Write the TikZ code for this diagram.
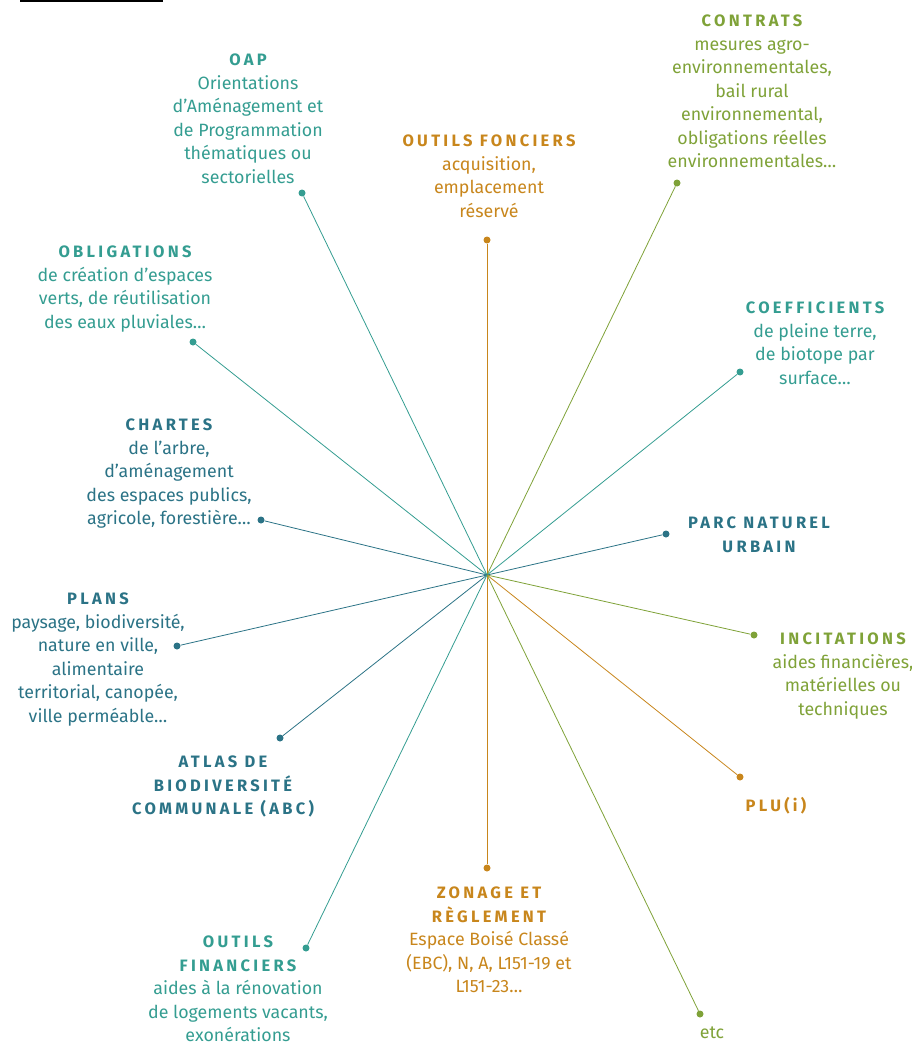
\documentclass[tikz,border=0pt]{standalone}
\usepackage{fontspec}
\setmainfont{Fira Sans}
\newfontfamily\hdfont[LetterSpace=20]{Fira Sans}
\usetikzlibrary{positioning}
\definecolor{tealA}{HTML}{349D91}
\definecolor{tealB}{HTML}{2B7386}
\definecolor{greenA}{HTML}{7FA238}
\definecolor{ochreA}{HTML}{C8861C}
\newcommand\hd[1]{{\hdfont\bfseries\fontsize{16.5}{23.5}\selectfont #1}}

\begin{document}
\begin{tikzpicture}[x=1pt,y=-1pt,
  lbl/.style={anchor=north,align=center,inner sep=0pt,font=\fontsize{17.8}{23.5}\selectfont},
  dot/.style={circle,inner sep=0pt,minimum size=7pt},
  ray/.style={line width=0.8pt}]
\useasboundingbox (0,0) rectangle (912,1046);
\fill[black] (20,0) rectangle (163,2.5);
\coordinate (c) at (487,575);
% labels
\node[lbl,text=tealA] (oap) at (248,54) {\hd{OAP}\\Orientations\\d’Aménagement et\\de Programmation\\thématiques ou\\sectorielles};
\node[lbl,text=ochreA] (fonc) at (489,135) {\hd{OUTILS FONCIERS}\\acquisition,\\emplacement\\réservé};
\node[lbl,text=greenA] (contr) at (752,15) {\hd{CONTRATS}\\mesures agro-\\environnementales,\\bail rural\\environnemental,\\obligations réelles\\environnementales…};
\node[lbl,text=tealA] (oblig) at (125,246) {\hd{OBLIGATIONS}\\de création d’espaces\\verts, de réutilisation\\des eaux pluviales…};
\node[lbl,text=tealA] (coef) at (815,302) {\hd{COEFFICIENTS}\\de pleine terre,\\de biotope par\\surface…};
\node[lbl,text=tealB] (chart) at (169,419) {\hd{CHARTES}\\de l’arbre,\\d’aménagement\\des espaces publics,\\agricole, forestière…};
\node[lbl,text=tealB] (parc) at (759,517) {\hd{PARC NATUREL}\\\hd{URBAIN}};
\node[lbl,text=tealB] (plans) at (98,593) {\hd{PLANS}\\paysage, biodiversité,\\nature en ville,\\alimentaire\\territorial, canopée,\\ville perméable…};
\node[lbl,text=greenA] (incit) at (843,633) {\hd{INCITATIONS}\\aides financières,\\matérielles ou\\techniques};
\node[lbl,text=tealB] (atlas) at (223,756) {\hd{ATLAS DE}\\\hd{BIODIVERSITÉ}\\\hd{COMMUNALE (ABC)}};
\node[lbl,text=ochreA] (plu) at (776,797) {\hd{PLU(i)}};
\node[lbl,text=ochreA] (zon) at (489,887) {\hd{ZONAGE ET}\\\hd{RÈGLEMENT}\\Espace Boisé Classé\\(EBC), N, A, L151-19 et\\L151-23…};
\node[lbl,text=tealA] (fin) at (238,936) {\hd{OUTILS}\\\hd{FINANCIERS}\\aides à la rénovation\\de logements vacants,\\exonérations};
\node[lbl,text=greenA] (etc) at (712,1027) {etc};
% end points
\node[dot,fill=tealA] (oapd) at (302,193) {};
\node[dot,fill=ochreA] (foncd) at (487,240) {};
\node[dot,fill=greenA] (contrd) at (677,183) {};
\node[dot,fill=tealA] (obligd) at (193,342) {};
\node[dot,fill=tealA] (coefd) at (740,372) {};
\node[dot,fill=tealB] (chartd) at (261,520) {};
\node[dot,fill=tealB] (parcd) at (666,534) {};
\node[dot,fill=tealB] (plansd) at (177,646) {};
\node[dot,fill=greenA] (incitd) at (754,635) {};
\node[dot,fill=tealB] (atlasd) at (280,738) {};
\node[dot,fill=ochreA] (plud) at (740,777) {};
\node[dot,fill=ochreA] (zond) at (487,868) {};
\node[dot,fill=tealA] (find) at (306,948) {};
\node[dot,fill=greenA] (etcd) at (700,1014) {};
% rays
\draw[ray,tealA] (c) -- (oapd);
\draw[ray,ochreA] (c) -- (foncd);
\draw[ray,greenA] (c) -- (contrd);
\draw[ray,tealA] (c) -- (obligd);
\draw[ray,tealA] (c) -- (coefd);
\draw[ray,tealB] (c) -- (chartd);
\draw[ray,tealB] (c) -- (parcd);
\draw[ray,tealB] (c) -- (plansd);
\draw[ray,greenA] (c) -- (incitd);
\draw[ray,tealB] (c) -- (atlasd);
\draw[ray,ochreA] (c) -- (plud);
\draw[ray,ochreA] (c) -- (zond);
\draw[ray,tealA] (c) -- (find);
\draw[ray,greenA] (c) -- (etcd);
\end{tikzpicture}
\end{document}
